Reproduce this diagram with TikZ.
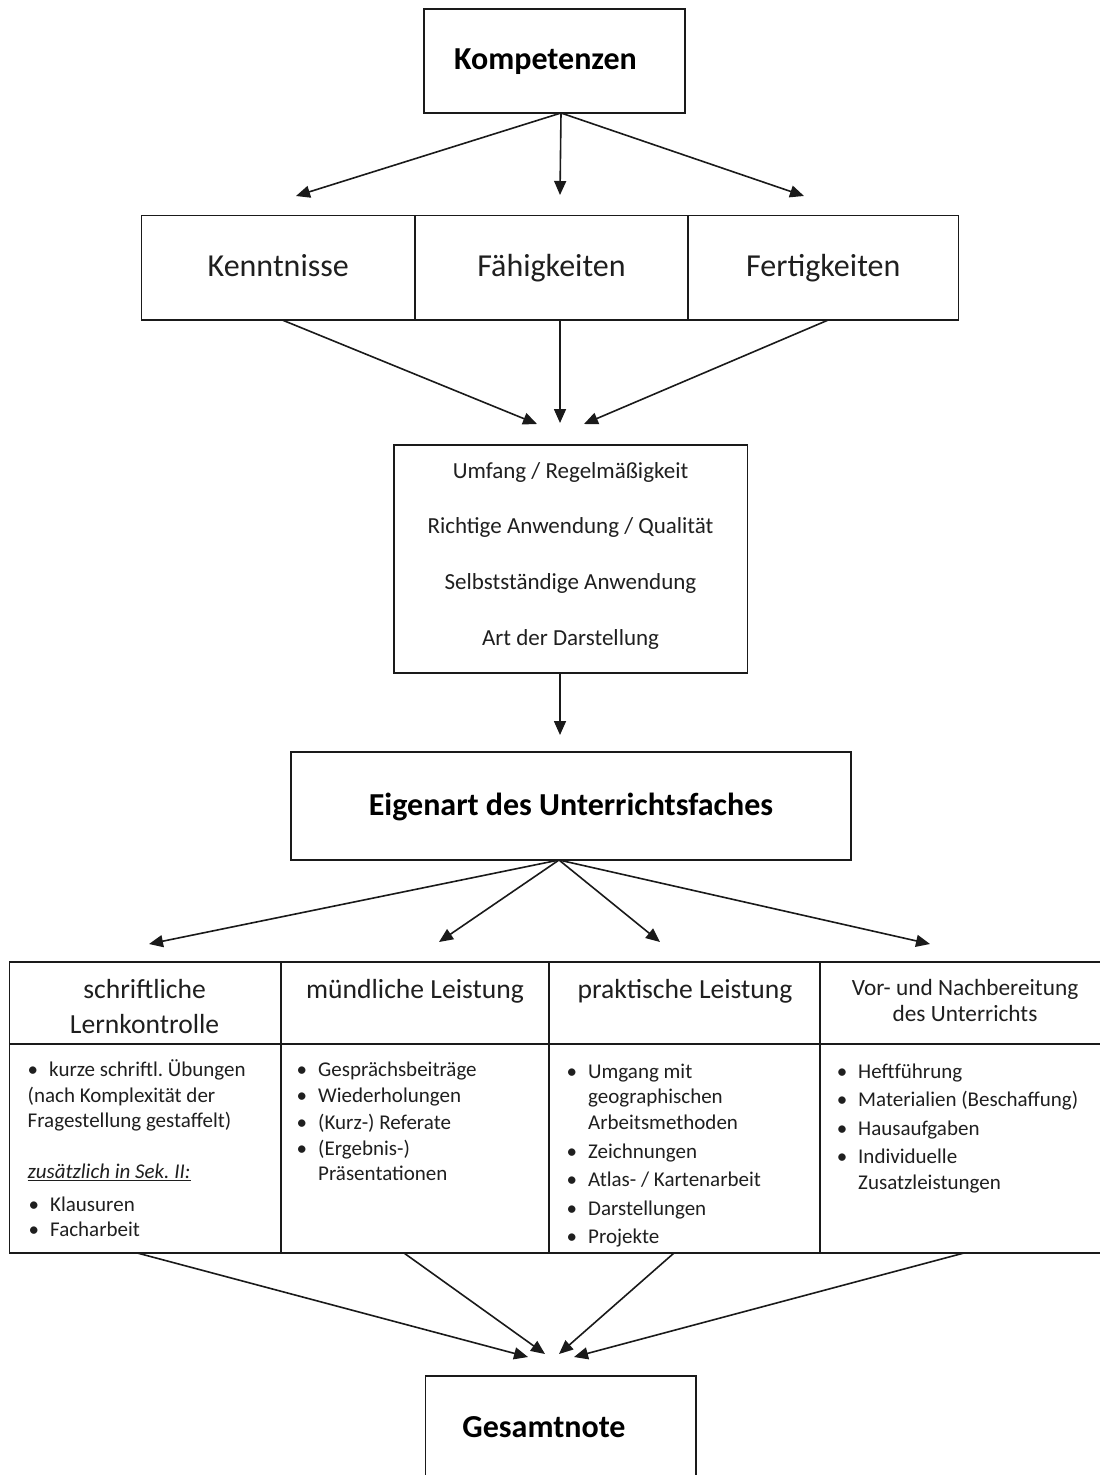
\documentclass[tikz,border=0pt]{standalone}
\usepackage{fontspec}
\setmainfont{Carlito}
\usetikzlibrary{arrows.meta}
\definecolor{lc}{HTML}{1A1A1A}
\definecolor{tc}{HTML}{1F1F1F}
\newcommand\bul{\llap{\textbullet\hskip 11pt}}
\frenchspacing
\tikzset{
  boxst/.style={draw=lc, line width=1.6pt, inner sep=0pt, outer sep=0pt, fill=none},
  arr/.style={draw=lc, line width=1.6pt, -{Triangle[length=14pt,width=12pt]}},
  ttl/.style={font=\fontsize{32}{38}\selectfont\bfseries, text=black, inner sep=0pt, text height=26pt, text depth=7pt},
  hdr/.style={font=\fontsize{32}{38}\selectfont, text=tc, text height=25pt, text depth=7pt},
  crt/.style={font=\fontsize{23}{28}\selectfont, text=tc, inner sep=0pt, text height=20pt, text depth=4pt},
  thd/.style={font=\fontsize{27.6}{33}\selectfont, text=tc, inner sep=0pt, text height=22pt, text depth=4pt},
  thds/.style={font=\fontsize{23.3}{28}\selectfont, text=tc, inner sep=0pt, text height=21pt, text depth=4pt},
  bdy/.style={font=\fontsize{21}{25}\selectfont, text=tc, inner sep=0pt, anchor=west, text height=18.5pt, text depth=4pt},
}
\begin{document}
\begin{tikzpicture}[x=1pt,y=-1pt]
\fill[white] (0,0) rectangle (1100,1475);
\useasboundingbox (0,0) rectangle (1100,1475);

% Kompetenzen
\node[boxst, minimum width=261pt, minimum height=104pt] (komp) at (554.5,61) {};
\node[ttl] (kompt) at (545.5,60) {Kompetenzen};

% row of three
\node[boxst, hdr, minimum width=273.5pt, minimum height=104.5pt] (kenn) at (278.25,267.75) {Kenntnisse};
\node[boxst, hdr, minimum width=273pt, minimum height=104.5pt] (faeh) at (551.5,267.75) {Fähigkeiten};
\node[boxst, hdr, minimum width=270.5pt, minimum height=104.5pt] (fert) at (823.25,267.75) {Fertigkeiten};

% criteria box
\node[boxst, minimum width=353.5pt, minimum height=228pt] (crit) at (570.75,559) {};
\node[crt] (cr1) at (570.5,470) {Umfang / Regelmäßigkeit};
\node[crt] (cr2) at (570.5,525) {Richtige Anwendung / Qualität};
\node[crt] (cr3) at (570.5,581) {Selbstständige Anwendung};
\node[crt] (cr4) at (570.5,637) {Art der Darstellung};

% Eigenart
\node[boxst, ttl, minimum width=560pt, minimum height=108pt] (eig) at (571,806) {Eigenart des Unterrichtsfaches};

% table header cells
\node[boxst, minimum width=271.4pt, minimum height=82pt] (h1) at (145.3,1003) {};
\node[boxst, minimum width=268pt, minimum height=82pt] (h2) at (415,1003) {};
\node[boxst, minimum width=271pt, minimum height=82pt] (h3) at (684.5,1003) {};
\node[boxst, minimum width=282pt, minimum height=82pt] (h4) at (961,1003) {};
% table body cells
\node[boxst, minimum width=271.4pt, minimum height=209pt] (b1) at (145.3,1148.5) {};
\node[boxst, minimum width=268pt, minimum height=209pt] (b2) at (415,1148.5) {};
\node[boxst, minimum width=271pt, minimum height=209pt] (b3) at (684.5,1148.5) {};
\node[boxst, minimum width=282pt, minimum height=209pt] (b4) at (961,1148.5) {};

% header texts
\node[thd] (h1a) at (144.6,989) {schriftliche};
\node[thd] (h1b) at (144.6,1024) {Lernkontrolle};
\node[thd] (h2a) at (415,989) {mündliche Leistung};
\node[thd] (h3a) at (685,989) {praktische Leistung};
\node[thds] (h4a) at (965,987) {Vor- und Nachbereitung};
\node[thds] (h4b) at (965,1013) {des Unterrichts};

% column 1
\node[bdy] (t11) at (49,1069) {\bul kurze schriftl. Übungen};
\node[bdy] (t12) at (27.5,1095) {(nach Komplexität der};
\node[bdy] (t13) at (27.5,1120) {Fragestellung gestaffelt)};
\node[bdy] (t14) at (27.5,1171) {\underline{\textit{zusätzlich in Sek. II:}}};
\node[bdy] (t15) at (50,1204) {\bul Klausuren};
\node[bdy] (t16) at (50,1229) {\bul Facharbeit};
% column 2
\node[bdy] (t21) at (318,1069) {\bul Gesprächsbeiträge};
\node[bdy] (t22) at (318,1095) {\bul Wiederholungen};
\node[bdy] (t23) at (318,1122) {\bul (Kurz-) Referate};
\node[bdy] (t24) at (318,1148) {\bul (Ergebnis-)};
\node[bdy] (t25) at (318,1173) {Präsentationen};
% column 3
\node[bdy] (t31) at (588,1071) {\bul Umgang mit};
\node[bdy] (t32) at (588,1096) {geographischen};
\node[bdy] (t33) at (588,1122) {Arbeitsmethoden};
\node[bdy] (t34) at (588,1151) {\bul Zeichnungen};
\node[bdy] (t35) at (588,1179) {\bul Atlas- / Kartenarbeit};
\node[bdy] (t36) at (588,1208) {\bul Darstellungen};
\node[bdy] (t37) at (588,1236) {\bul Projekte};
% column 4
\node[bdy] (t41) at (858,1071) {\bul Heftführung};
\node[bdy] (t42) at (858,1099) {\bul Materialien (Beschaffung)};
\node[bdy] (t43) at (858,1128) {\bul Hausaufgaben};
\node[bdy] (t44) at (858,1156) {\bul Individuelle};
\node[bdy] (t45) at (858,1182) {Zusatzleistungen};

% Gesamtnote
\node[boxst, minimum width=270.5pt, minimum height=114pt] (ges) at (560.75,1433) {};
\node[ttl] (gest) at (544,1428) {Gesamtnote};

% arrow tips
\coordinate (k1) at (296,196);
\coordinate (k2) at (560,195);
\coordinate (k3) at (804,196);
\coordinate (r1) at (537,424);
\coordinate (r2) at (560,423);
\coordinate (r3) at (584,424);
\coordinate (c1) at (560,735);
\coordinate (e1) at (149,944);
\coordinate (e2) at (439,942);
\coordinate (e3) at (660,942);
\coordinate (e4) at (930,944);
\coordinate (g1) at (528,1357);
\coordinate (g2) at (545,1354);
\coordinate (g3) at (559,1354);
\coordinate (g4) at (574,1357);

% connectors
\draw[arr] ([xshift=6.5pt]komp.south) -- (k1);
\draw[arr] ([xshift=6.5pt]komp.south) -- (k2);
\draw[arr] ([xshift=6.5pt]komp.south) -- (k3);
\draw[arr] ([xshift=4pt]kenn.south) -- (r1);
\draw[arr] ([xshift=8.5pt]faeh.south) -- (r2);
\draw[arr] ([xshift=5pt]fert.south) -- (r3);
\draw[arr] ([xshift=-10.75pt]crit.south) -- (c1);
\draw[arr] ([xshift=-12pt]eig.south) -- (e1);
\draw[arr] ([xshift=-12pt]eig.south) -- (e2);
\draw[arr] ([xshift=-12pt]eig.south) -- (e3);
\draw[arr] ([xshift=-12pt]eig.south) -- (e4);
\draw[arr] ([xshift=-8pt]b1.south) -- (g1);
\draw[arr] ([xshift=-11pt]b2.south) -- (g2);
\draw[arr] ([xshift=-10.5pt]b3.south) -- (g3);
\draw[arr] ([xshift=3pt]b4.south) -- (g4);
\end{tikzpicture}
\end{document}
